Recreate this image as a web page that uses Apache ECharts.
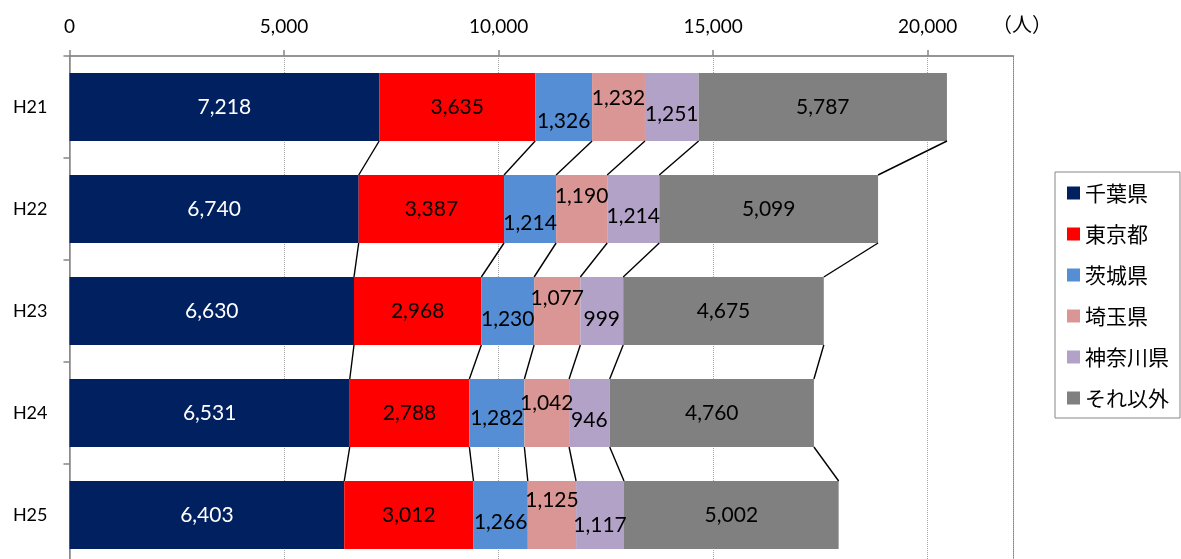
<!DOCTYPE html>
<html>
<head>
<meta charset="utf-8">
<script src="https://cdn.jsdelivr.net/npm/echarts@6/dist/echarts.min.js"></script>
<style>
  html, body { margin: 0; padding: 0; background: #fff; overflow: hidden; }
  /* the plot runs a little past the bottom edge of the view */
  #chart { width: 1181px; height: 572px; }
</style>
</head>
<body>
<div id="chart"></div>
<script>
// Fiscal years (Heisei) shown top to bottom
const years = ['H21', 'H22', 'H23', 'H24', 'H25'];

// Number of people by prefecture of residence
const seriesNames = ['千葉県', '東京都', '茨城県', '埼玉県', '神奈川県', 'それ以外'];
const chiba    = [7218, 6740, 6630, 6531, 6403];
const tokyo    = [3635, 3387, 2968, 2788, 3012];
const ibaraki  = [1326, 1214, 1230, 1282, 1266];
const saitama  = [1232, 1190, 1077, 1042, 1125];
const kanagawa = [1251, 1214,  999,  946, 1117];
const others   = [5787, 5099, 4675, 4760, 5002];

// Value axis ticks
const xTicks = { min: 0, max: 22000, interval: 5000 };
const unitLabel = '（人）';

// Styling kept apart from the numbers
const colors = ['#002060', '#FF0000', '#558ED5', '#D99694', '#B3A2C7', '#808080'];
const labelColors = ['#ffffff', '#000000', '#000000', '#000000', '#000000', '#000000'];
// vertical nudges of the small segment labels so they do not collide
const labelNudge = [
  [0, 0, 0, 0, 0],
  [0, 0, 0, 0, 0],
  [14, 14, 8, 5, 7],
  [-9, -13, -13, -10, -15],
  [7, 7, 8, 7, 10],
  [0, 0, 0, 0, 0]
];
const BAR_GAP = 1 / 3;

const values = [chiba, tokyo, ibaraki, saitama, kanagawa, others];

function fmt(n) {
  return String(n).replace(/\B(?=(\d{3})+(?!\d))/g, ',');
}

// running totals: cum[year][k] = right edge of segment k
const cum = years.map(function (_, i) {
  let s = 0;
  return values.map(function (arr) { s += arr[i]; return s; });
});

const NUM_FONT = 'Lato, "Open Sans", sans-serif';
const JP_FONT = '"Noto Sans CJK JP", "Noto Sans", sans-serif';

const barSeries = seriesNames.map(function (name, k) {
  return {
    name: name,
    type: 'bar',
    stack: 'total',
    barCategoryGap: (BAR_GAP * 100) + '%',
    itemStyle: { color: colors[k] },
    label: {
      show: true,
      position: 'inside',
      color: labelColors[k],
      fontFamily: NUM_FONT,
      fontSize: 21,
      formatter: function (p) { return fmt(p.value); }
    },
    data: values[k].map(function (v, i) {
      return { value: v, label: { offset: [0, labelNudge[k][i]] } };
    })
  };
});

// series lines joining the segment edges of consecutive bars
const connectorSeries = {
  type: 'custom',
  silent: true,
  z: 3,
  encode: { x: 0, y: 1 },
  data: years.slice(0, -1).map(function (_, i) { return [0, i]; }),
  renderItem: function (params, api) {
    const i = api.value(1);
    const band = api.size([0, 1])[1];
    const half = band * (1 - BAR_GAP) / 2;
    const children = [];
    for (let k = 0; k < seriesNames.length; k++) {
      const a = api.coord([cum[i][k], i]);
      const b = api.coord([cum[i + 1][k], i + 1]);
      children.push({
        type: 'line',
        shape: { x1: a[0], y1: a[1] + half, x2: b[0], y2: b[1] - half },
        style: { stroke: '#000', lineWidth: 1.4 }
      });
    }
    return { type: 'group', children: children };
  }
};

const chart = echarts.init(document.getElementById('chart'), null, { renderer: 'canvas' });

chart.setOption({
  animation: false,
  backgroundColor: '#ffffff',
  grid: {
    left: 69.5,
    top: 56,
    width: 944,
    height: 510,
    show: true,
    borderColor: '#868686',
    borderWidth: 1,
    backgroundColor: 'transparent'
  },
  xAxis: {
    type: 'value',
    position: 'top',
    min: xTicks.min,
    max: xTicks.max,
    interval: xTicks.interval,
    axisLine: { show: true, lineStyle: { color: '#868686', width: 1.5 } },
    axisTick: { show: true, inside: false, length: 6, lineStyle: { color: '#868686', width: 1.5 } },
    axisLabel: {
      margin: 20,
      showMaxLabel: false,
      color: '#000',
      fontFamily: NUM_FONT,
      fontSize: 19,
      formatter: function (v) { return v === xTicks.max ? '' : fmt(v); }
    },
    splitLine: { show: true, lineStyle: { color: '#a6a6a6', width: 1, type: [1, 1] } }
  },
  yAxis: {
    type: 'category',
    inverse: true,
    data: years,
    axisLine: { show: true, lineStyle: { color: '#868686', width: 1.5 } },
    axisTick: { show: true, inside: false, length: 6, alignWithLabel: false, lineStyle: { color: '#868686', width: 1.5 } },
    axisLabel: { margin: 22, color: '#000', fontFamily: NUM_FONT, fontSize: 18 },
    splitLine: { show: false }
  },
  legend: {
    orient: 'vertical',
    left: 1055,
    top: 172,
    data: seriesNames,
    icon: 'rect',
    itemWidth: 13,
    itemHeight: 13,
    itemGap: 19,
    padding: [10, 11, 9, 12],
    borderColor: '#868686',
    borderWidth: 1,
    selectedMode: false,
    textStyle: { color: '#000', fontFamily: JP_FONT, fontSize: 21, lineHeight: 22 }
  },
  graphic: [{
    type: 'text',
    left: 992,
    top: 14,
    style: { text: unitLabel, fill: '#000', font: '20px ' + JP_FONT }
  }],
  series: barSeries.concat([connectorSeries])
});
</script>
</body>
</html>
